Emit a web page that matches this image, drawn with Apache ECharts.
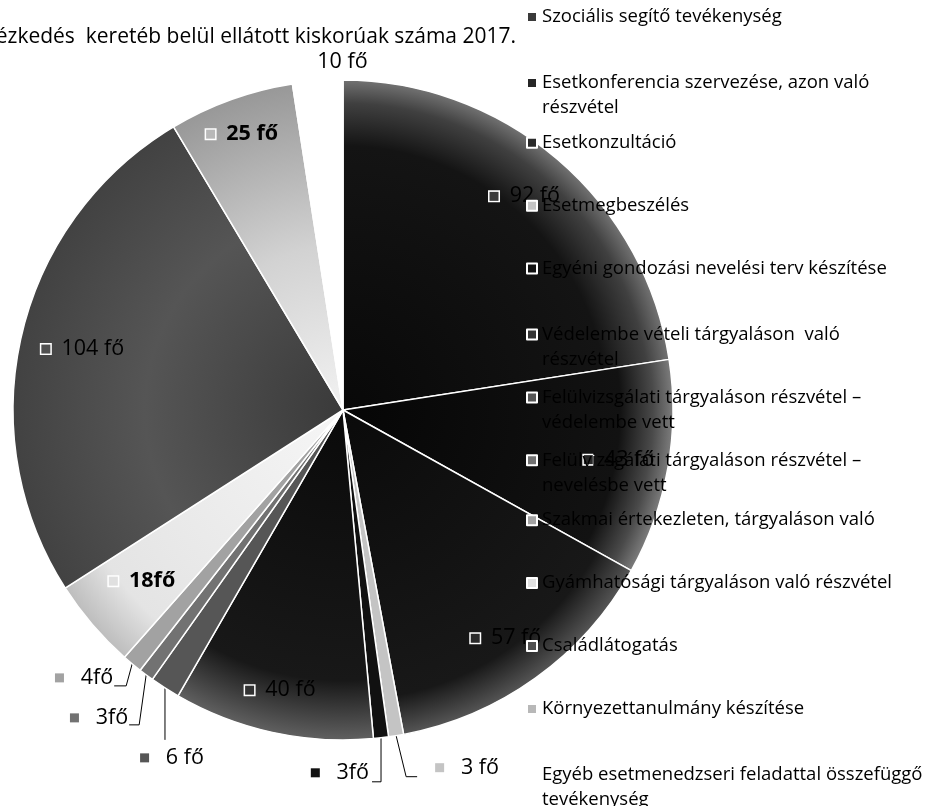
<!DOCTYPE html>
<html>
<head>
<meta charset="utf-8">
<script src="https://cdn.jsdelivr.net/npm/echarts@6/dist/echarts.min.js"></script>
<style>
  html, body { margin: 0; padding: 0; background: #fff; }
  #chart { width: 928px; height: 806px; }
</style>
</head>
<body>
<div id="chart"></div>
<script>
// Number of minors served per activity, 2017
const titleText = 'Hatósági intézkedés  keretéb belül ellátott kiskorúak száma 2017.';

const activities = [
  'Szociális segítő tevékenység',
  'Esetkonferencia szervezése, azon való\nrészvétel',
  'Esetkonzultáció',
  'Esetmegbeszélés',
  'Egyéni gondozási nevelési terv készítése',
  'Védelembe vételi tárgyaláson  való\nrészvétel',
  'Felülvizsgálati tárgyaláson részvétel –\nvédelembe vett',
  'Felülvizsgálati tárgyaláson részvétel –\nnevelésbe vett',
  'Szakmai értekezleten, tárgyaláson való',
  'Gyámhatósági tárgyaláson való részvétel',
  'Családlátogatás',
  'Környezettanulmány készítése',
  'Egyéb esetmenedzseri feladattal összefüggő\ntevékenység'
];

const persons = [92, 43, 57, 3, 3, 40, 6, 3, 4, 18, 104, 25, 10];

// separator between the number and "fő" in each data label
const unitGap = [' ', ' ', ' ', ' ', '', ' ', ' ', '', '', '', ' ', ' ', ' '];

// ---- layout & style ----
const CX = 343, CY = 410, R = 330;
const FONT = '"Open Sans", "Noto Sans", sans-serif';

function radial(stops) {
  return {
    type: 'radial', x: CX, y: CY, r: R, global: true,
    colorStops: stops.map(s => ({ offset: s[0], color: s[1] }))
  };
}

const fills = [
  radial([[0, '#080808'], [0.8, '#141414'], [0.93, '#404040'], [1, '#727272']]),
  radial([[0, '#050505'], [0.84, '#121212'], [0.94, '#4a4a4a'], [1, '#7c7c7c']]),
  radial([[0, '#0a0a0a'], [0.88, '#181818'], [1, '#555555']]),
  '#c4c4c4',
  '#111111',
  radial([[0, '#0a0a0a'], [0.82, '#181818'], [1, '#606060']]),
  '#565656',
  '#727272',
  '#a2a2a2',
  radial([[0, '#f6f6f6'], [0.85, '#e4e4e4'], [1, '#bdbdbd']]),
  radial([[0, '#3a3a3a'], [0.6, '#555555'], [1, '#424242']]),
  radial([[0, '#f2f2f2'], [0.5, '#d2d2d2'], [1, '#989898']]),
  '#ffffff'
];

// solid tones used for legend keys and the keys inside data labels
const keyColors = ['#3a3a3a', '#262626', '#2a2a2a', '#c4c4c4', '#111111', '#333333',
  '#565656', '#727272', '#a2a2a2', '#e0e0e0', '#505050', '#b8b8b8', '#ffffff'];

// label placement: inside labels are pushed out to a fraction of the radius,
// outside labels get an elbow leader line
const labelSpec = [
  { mode: 'inside', r: 0.85 },
  { mode: 'inside', r: 0.85 },
  { mode: 'inside', r: 0.85 },
  { mode: 'outside', dx1: 10, dy1: 41, dx2: 11, tx: 18, ty: -9, align: 'left' },
  { mode: 'outside', dx1: 0, dy1: 44, dx2: -9, tx: -3, ty: -9, align: 'right' },
  { mode: 'inside', r: 0.87 },
  { mode: 'outside', dx1: 0, dy1: 52, dx2: 0, tx: 7, ty: 18, align: 'center' },
  { mode: 'outside', dx1: -7, dy1: 50, dx2: -10, tx: -1, ty: -7, align: 'right' },
  { mode: 'outside', dx1: -6, dy1: 22, dx2: -12, tx: -1, ty: -8, align: 'right' },
  { mode: 'inside', r: 0.8, bold: true },
  { mode: 'inside', r: 0.81 },
  { mode: 'inside', r: 0.89, bold: true },
  { mode: 'outside', dx1: 0, dy1: 0, dx2: 0, tx: 12, ty: -19, align: 'center', noLine: true }
];

const LABEL_SIZE = 21.5;
const rich = {
  t: { fontFamily: FONT, fontSize: LABEL_SIZE, color: '#000' },
  b: { fontFamily: FONT, fontSize: LABEL_SIZE, fontWeight: 'bold', color: '#000' }
};
keyColors.forEach((c, i) => {
  rich['k' + i] = { width: 9, height: 9, backgroundColor: c, borderColor: '#fff', borderWidth: 1.5 };
});

// ---- legend: one block per entry so every entry keeps the same pitch ----
// multi-line entries get an empty leading line so the key sits on the first text line
const LEG_Y0 = 17, LEG_STEP = 62.9, LINE_H = 25;
const legends = activities.map((name, i) => {
  const lines = name.split('\n').length;
  const pad = lines > 1 ? lines - 1 : 0;
  return {
    data: [{ name: name, itemStyle: { color: keyColors[i] } }],
    orient: 'vertical',
    left: 526,
    top: LEG_Y0 + i * LEG_STEP - LINE_H * (pad + 0.5) + pad * 3,
    padding: 0,
    itemWidth: 10,
    itemHeight: 10,
    icon: 'rect',
    selectedMode: false,
    formatter: n => '\n'.repeat(pad) + n,
    textStyle: { fontFamily: FONT, fontSize: 18.5, lineHeight: LINE_H, color: '#000' }
  };
});

const chart = echarts.init(document.getElementById('chart'), null, { renderer: 'canvas' });

chart.setOption({
  backgroundColor: '#fff',
  animation: false,
  title: {
    text: titleText,
    right: 412,
    top: 27,
    padding: 0,
    textStyle: { fontFamily: FONT, fontSize: 21, fontWeight: 'normal', color: '#000' }
  },
  legend: legends,
  series: [{
    type: 'pie',
    center: [CX, CY],
    radius: R,
    startAngle: 90,
    clockwise: true,
    avoidLabelOverlap: false,
    silent: true,
    itemStyle: { borderColor: '#fff', borderWidth: 1.5 },
    label: {
      show: true,
      overflow: 'none',
      fontFamily: FONT,
      fontSize: LABEL_SIZE,
      color: '#000',
      rich: rich,
      formatter: p => {
        const i = p.dataIndex;
        const tag = labelSpec[i].bold ? 'b' : 't';
        const gap = labelSpec[i].mode === 'inside' ? '  ' : '   ';
        return '{k' + i + '|}' + gap + '{' + tag + '|' + p.value + unitGap[i] + 'fő}';
      }
    },
    labelLine: { show: true, length: 10, length2: 10, smooth: false, lineStyle: { color: '#000', width: 1 } },
    labelLayout: function (p) {
      const s = labelSpec[p.dataIndex];
      if (s.mode === 'inside') {
        const lr = p.labelRect;
        const mx = lr.x + lr.width / 2 - CX;
        const my = lr.y + lr.height / 2 - CY;
        const d = Math.hypot(mx, my) || 1;
        return { x: CX + mx / d * R * s.r, y: CY + my / d * R * s.r, align: 'center', verticalAlign: 'middle' };
      }
      const p1 = p.labelLinePoints[0];
      const p2 = [p1[0] + s.dx1, p1[1] + s.dy1];
      const p3 = [p2[0] + s.dx2, p2[1]];
      return {
        x: p3[0] + s.tx,
        y: p3[1] + s.ty,
        align: s.align,
        verticalAlign: 'middle',
        labelLinePoints: s.noLine ? [p1, p1, p1] : [p1, p2, p3]
      };
    },
    data: activities.map((name, i) => ({
      name: name,
      value: persons[i],
      itemStyle: { color: fills[i] },
      label: { position: labelSpec[i].mode === 'inside' ? 'inside' : 'outside' }
    }))
  }]
});
</script>
</body>
</html>
